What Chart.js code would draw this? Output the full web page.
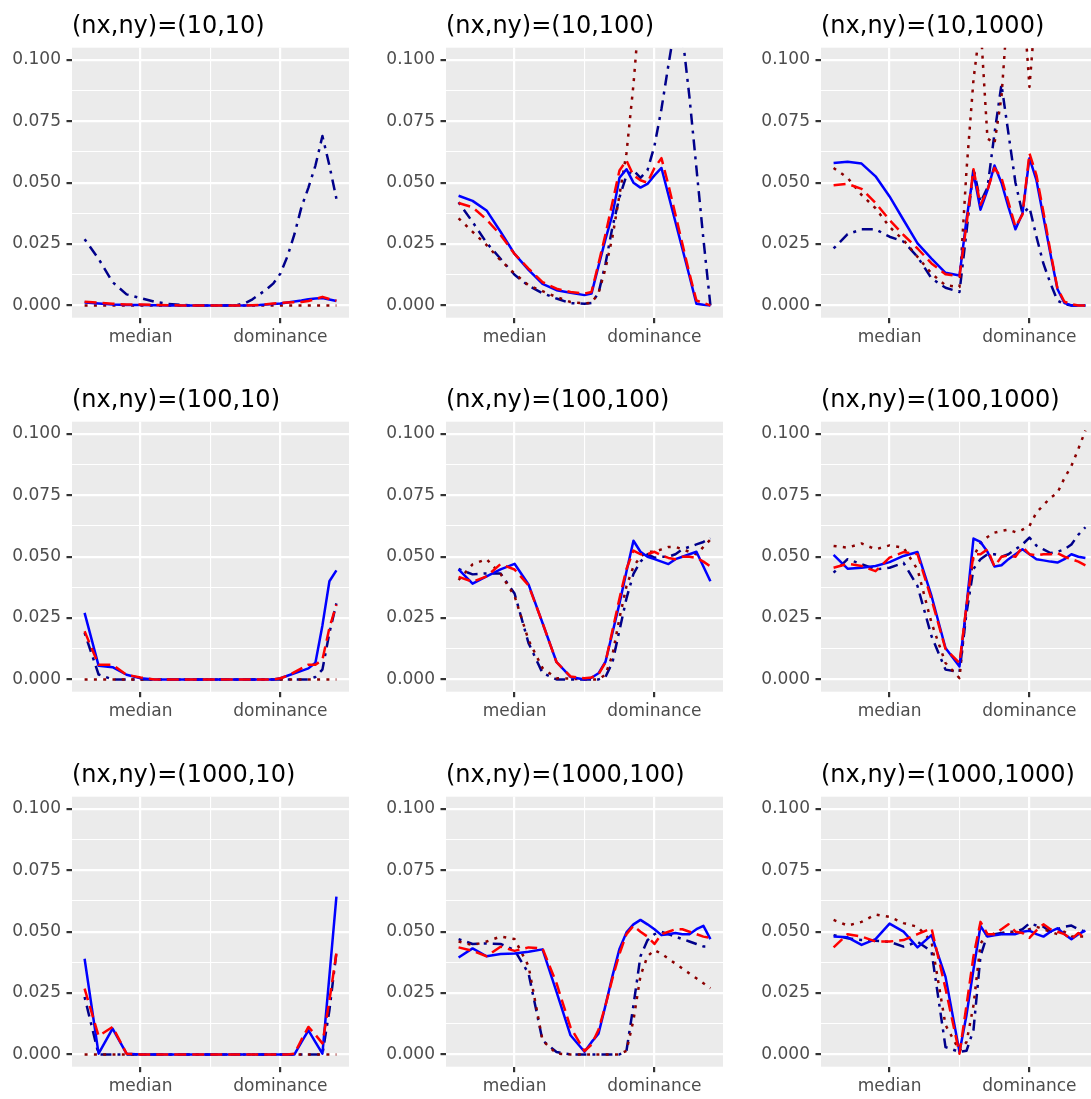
<!DOCTYPE html>
<html><head><meta charset="utf-8">
<script src="https://cdn.jsdelivr.net/npm/chart.js@4.4.1/dist/chart.umd.min.js"></script>
<style>
html,body{margin:0;padding:0;background:#fff;overflow:hidden;width:1091px;height:1099px;position:relative;}
.cell{position:absolute;width:374px;height:374px;}
canvas{display:block;}
</style></head><body>
<script>
// x positions of the evaluated tests (median = 0, dominance = 1)
const X = [-0.4,-0.3,-0.2,-0.1,0,0.1,0.2,0.3,0.4,0.5,0.55,0.6,0.65,0.7,0.75,0.8,0.85,0.9,0.95,1.0,1.05,1.1,1.15,1.2,1.25,1.3,1.35,1.4];
const xTickValues = [0, 0.5, 1];
const xTickLabels = {0: 'median', 1: 'dominance'};
const yTickValues = [0, 0.0125, 0.025, 0.0375, 0.05, 0.0625, 0.075, 0.0875, 0.1];
const titles = ['(nx,ny)=(10,10)','(nx,ny)=(10,100)','(nx,ny)=(10,1000)','(nx,ny)=(100,10)','(nx,ny)=(100,100)','(nx,ny)=(100,1000)','(nx,ny)=(1000,10)','(nx,ny)=(1000,100)','(nx,ny)=(1000,1000)'];

// (10,10)
const solid_10_10   = [0.0012,0.0008,0.0004,0.0002,0.0002,0.0001,0,0,0,0, 0,0,0,0,0,0.0001,0.0002,0.0004,0.0006,0.0008,0.0012,0.0016,0.002,0.0025,0.0028,0.003,0.0024,0.0018];
const dashed_10_10  = [0.0015,0.0011,0.0007,0.0004,0.0004,0.0002,0.0001,0,0,0, 0,0,0,0,0,0.0001,0.0002,0.0005,0.0008,0.0011,0.0012,0.0013,0.0014,0.0018,0.0026,0.0035,0.0026,0.0019];
const dotted_10_10  = [0,0,0,0,0,0,0,0,0,0, 0,0,0,0,0,0,0,0,0,0,0,0,0,0,0,0,0,0];
const dotdash_10_10 = [0.027,0.019,0.0095,0.0045,0.003,0.0015,0.0006,0.0002,0,0, 0,0,0.0001,0.0003,0.001,0.0025,0.0045,0.0065,0.009,0.013,0.02,0.029,0.04,0.048,0.057,0.069,0.057,0.0435];
// (10,100)
const solid_10_100   = [0.0447,0.0426,0.0387,0.030,0.021,0.0145,0.0088,0.0062,0.0052,0.0042, 0.0048,0.016,0.027,0.037,0.052,0.0555,0.050,0.048,0.0495,0.053,0.056,0.045,0.034,0.023,0.012,0.0007,0.0003,0];
const dashed_10_100  = [0.0417,0.040,0.035,0.0287,0.021,0.015,0.0095,0.0068,0.0055,0.0048, 0.0055,0.017,0.029,0.042,0.055,0.059,0.053,0.051,0.050,0.056,0.060,0.049,0.037,0.025,0.013,0.002,0.001,0];
const dotted_10_100  = [0.0355,0.030,0.0246,0.0184,0.013,0.0082,0.0058,0.0034,0.0014,0.0008, 0.001,0.005,0.015,0.028,0.045,0.062,0.09,0.125,0.15,0.17,0.18,0.19,0.2,0.2,0.2,0.2,0.2,0.2];
const dotdash_10_100 = [0.042,0.034,0.0255,0.019,0.0125,0.008,0.005,0.0028,0.0009,0.0007, 0.001,0.005,0.017,0.032,0.044,0.053,0.055,0.052,0.055,0.065,0.08,0.098,0.115,0.11,0.085,0.056,0.027,0];
// (10,1000)
const solid_10_1000   = [0.058,0.0585,0.0578,0.0526,0.0444,0.0348,0.0253,0.0191,0.0133,0.0122, 0.035,0.054,0.039,0.047,0.057,0.050,0.040,0.031,0.0375,0.060,0.051,0.036,0.021,0.0067,0.001,0,0,0];
const dashed_10_1000  = [0.049,0.0495,0.0475,0.0417,0.0348,0.0287,0.0232,0.0171,0.0127,0.0119, 0.033,0.0555,0.041,0.047,0.056,0.052,0.042,0.032,0.037,0.062,0.053,0.038,0.022,0.007,0.0015,0.0005,0,0];
const dotted_10_1000  = [0.056,0.052,0.045,0.0396,0.032,0.0266,0.0198,0.013,0.0082,0.0075, 0.055,0.092,0.115,0.068,0.066,0.085,0.125,0.14,0.13,0.089,0.125,0.15,0.16,0.17,0.18,0.18,0.19,0.19];
const dotdash_10_1000 = [0.0232,0.029,0.031,0.031,0.028,0.026,0.0198,0.011,0.0072,0.0055, 0.03,0.056,0.042,0.048,0.07,0.09,0.07,0.05,0.0375,0.040,0.028,0.017,0.009,0.002,0.0005,0,0,0];
// (100,10)
const solid_100_10   = [0.0271,0.0056,0.005,0.0019,0.0005,0,0,0,0,0, 0,0,0,0,0,0,0,0,0,0.0005,0.0015,0.0025,0.0035,0.0045,0.0068,0.022,0.040,0.0444];
const dashed_100_10  = [0.0196,0.006,0.006,0.0019,0.0008,0,0,0,0,0, 0,0,0,0,0,0,0,0,0,0.0005,0.0015,0.003,0.0045,0.006,0.006,0.008,0.021,0.0305];
const dotted_100_10  = [0,0,0,0,0,0,0,0,0,0, 0,0,0,0,0,0,0,0,0,0,0,0,0,0,0,0,0,0];
const dotdash_100_10 = [0.019,0.002,0,0,0,0,0,0,0,0, 0,0,0,0,0,0,0,0,0,0,0,0,0,0,0.001,0.004,0.019,0.031];
// (100,100)
const solid_100_100   = [0.0448,0.039,0.042,0.0448,0.0471,0.0387,0.023,0.0071,0.001,0, 0.0007,0.0025,0.0072,0.019,0.031,0.044,0.0565,0.052,0.050,0.049,0.048,0.047,0.049,0.050,0.051,0.052,0.046,0.040];
const dashed_100_100  = [0.0418,0.0398,0.042,0.047,0.0448,0.0383,0.023,0.007,0.0012,0.0005, 0.0008,0.002,0.007,0.02,0.033,0.045,0.0525,0.051,0.051,0.052,0.0505,0.0495,0.049,0.050,0.050,0.0495,0.048,0.046];
const dotted_100_100  = [0.0405,0.0469,0.049,0.043,0.034,0.016,0.0046,0.0005,0.0003,0, 0,0,0.002,0.01,0.025,0.038,0.046,0.050,0.052,0.052,0.053,0.054,0.054,0.053,0.052,0.051,0.054,0.057];
const dotdash_100_100 = [0.045,0.0428,0.0432,0.0432,0.035,0.0148,0.0026,0,0,0, 0,0,0.001,0.007,0.02,0.033,0.043,0.048,0.051,0.0496,0.050,0.050,0.051,0.053,0.054,0.055,0.056,0.0575];
// (100,1000)
const solid_100_1000   = [0.0507,0.0451,0.0455,0.0462,0.0478,0.0503,0.0519,0.034,0.0128,0.0053, 0.03,0.0574,0.056,0.052,0.046,0.0465,0.049,0.051,0.053,0.051,0.049,0.0485,0.048,0.0476,0.049,0.051,0.050,0.0495];
const dashed_100_1000  = [0.0455,0.0471,0.0462,0.0441,0.0496,0.0519,0.051,0.0326,0.0124,0.0067, 0.03,0.051,0.051,0.053,0.046,0.050,0.0505,0.050,0.054,0.051,0.0505,0.051,0.051,0.0515,0.050,0.049,0.048,0.0465];
const dotted_100_1000  = [0.0544,0.0537,0.0554,0.053,0.0546,0.0537,0.0448,0.023,0.0067,0.0005, 0.03,0.050,0.0555,0.058,0.0598,0.0605,0.061,0.060,0.061,0.0625,0.068,0.071,0.074,0.076,0.082,0.087,0.094,0.1014];
const dotdash_100_1000 = [0.0435,0.049,0.047,0.0448,0.0455,0.0475,0.038,0.0176,0.004,0.003, 0.027,0.045,0.049,0.051,0.051,0.050,0.051,0.053,0.055,0.0578,0.0545,0.053,0.0515,0.052,0.053,0.055,0.059,0.062];
// (1000,10)
const solid_1000_10   = [0.039,0.0003,0.0105,0.0003,0,0,0,0,0,0, 0,0,0,0,0,0,0,0,0,0,0,0,0.005,0.0098,0.005,0.0003,0.032,0.0643];
const dashed_1000_10  = [0.0268,0.0075,0.0112,0.0003,0,0,0,0,0,0, 0,0,0,0,0,0,0,0,0,0,0,0.0003,0.006,0.0112,0.008,0.0045,0.022,0.0411];
const dotted_1000_10  = [0,0,0,0,0,0,0,0,0,0, 0,0,0,0,0,0,0,0,0,0,0,0,0,0,0,0,0,0];
const dotdash_1000_10 = [0.0234,0,0,0,0,0,0,0,0,0, 0,0,0,0,0,0,0,0,0,0,0,0,0,0,0,0,0.018,0.0415];
// (1000,100)
const solid_1000_100   = [0.0395,0.0432,0.040,0.0409,0.0411,0.0418,0.0428,0.0255,0.0078,0.0011, 0.005,0.0084,0.02,0.032,0.043,0.0497,0.053,0.0548,0.053,0.051,0.0486,0.049,0.0495,0.049,0.049,0.051,0.0524,0.047];
const dashed_1000_100  = [0.0436,0.0422,0.040,0.0439,0.0422,0.0436,0.0432,0.029,0.011,0.0014, 0.004,0.01,0.02,0.031,0.041,0.049,0.0524,0.050,0.048,0.045,0.049,0.050,0.051,0.051,0.050,0.049,0.048,0.0475];
const dotted_1000_100  = [0.046,0.0445,0.046,0.048,0.047,0.036,0.0057,0.0003,0,0, 0,0,0,0,0,0.0015,0.014,0.032,0.040,0.0425,0.041,0.039,0.037,0.035,0.033,0.031,0.029,0.027];
const dotdash_1000_100 = [0.047,0.045,0.0452,0.045,0.0425,0.033,0.0057,0.001,0,0, 0,0,0,0,0,0.0015,0.02,0.040,0.0465,0.049,0.050,0.049,0.048,0.047,0.046,0.045,0.044,0.044];
// (1000,1000)
const solid_1000_1000   = [0.048,0.0477,0.0446,0.047,0.0533,0.050,0.0436,0.0486,0.0316,0.001, 0.016,0.0346,0.0523,0.048,0.0485,0.049,0.049,0.049,0.050,0.0504,0.049,0.048,0.050,0.0514,0.049,0.0469,0.049,0.0504];
const dashed_1000_1000  = [0.0436,0.049,0.048,0.046,0.046,0.0466,0.049,0.0514,0.0268,0.0003, 0.02,0.040,0.054,0.049,0.049,0.051,0.053,0.050,0.0495,0.0475,0.0505,0.053,0.051,0.050,0.049,0.047,0.0495,0.047];
const dotted_1000_1000  = [0.0548,0.0525,0.054,0.057,0.056,0.0535,0.052,0.046,0.012,0.0015, 0.005,0.02,0.045,0.050,0.049,0.049,0.050,0.049,0.050,0.051,0.052,0.051,0.050,0.049,0.050,0.048,0.048,0.048];
const dotdash_1000_1000 = [0.0486,0.0473,0.0466,0.0463,0.0459,0.0439,0.0459,0.042,0.003,0.001, 0.0015,0.01,0.04,0.049,0.049,0.0495,0.050,0.050,0.051,0.0534,0.0525,0.052,0.050,0.051,0.052,0.0525,0.051,0.050];

const panels = [
  [solid_10_10, dashed_10_10, dotted_10_10, dotdash_10_10],
  [solid_10_100, dashed_10_100, dotted_10_100, dotdash_10_100],
  [solid_10_1000, dashed_10_1000, dotted_10_1000, dotdash_10_1000],
  [solid_100_10, dashed_100_10, dotted_100_10, dotdash_100_10],
  [solid_100_100, dashed_100_100, dotted_100_100, dotdash_100_100],
  [solid_100_1000, dashed_100_1000, dotted_100_1000, dotdash_100_1000],
  [solid_1000_10, dashed_1000_10, dotted_1000_10, dotdash_1000_10],
  [solid_1000_100, dashed_1000_100, dotted_1000_100, dotdash_1000_100],
  [solid_1000_1000, dashed_1000_1000, dotted_1000_1000, dotdash_1000_1000]
];

Chart.defaults.font.family = "'DejaVu Sans', sans-serif";
const LINE_W = 2.5;
const GRID_W = 2.2;
const colLeft = [0, 374, 749];
const rowTop = [0, 374, 749];

const panelBg = {
  id: 'panelBg',
  beforeDraw(chart) {
    const a = chart.chartArea, ctx = chart.ctx;
    ctx.save();
    ctx.fillStyle = '#EBEBEB';
    ctx.fillRect(a.left, a.top, a.right - a.left, a.bottom - a.top);
    ctx.restore();
  }
};

function toXY(vals) { return vals.map((v, i) => ({x: X[i], y: v})); }
const isMajorY = v => Math.abs(v / 0.025 - Math.round(v / 0.025)) < 1e-6;
const isMajorX = v => v === 0 || v === 1;

panels.forEach((p, idx) => {
  const r = Math.floor(idx / 3), c = idx % 3;
  const div = document.createElement('div');
  div.className = 'cell';
  div.style.left = colLeft[c] + 'px';
  div.style.top = rowTop[r] + 'px';
  const cv = document.createElement('canvas');
  cv.width = 374; cv.height = 374;
  cv.style.width = '374px'; cv.style.height = '374px';
  div.appendChild(cv);
  document.body.appendChild(div);

  const common = {borderWidth: LINE_W, pointRadius: 0, pointHoverRadius: 0, tension: 0, fill: false, clip: 0, borderCapStyle: 'butt', borderJoinStyle: 'round'};
  const datasets = [
    Object.assign({label: 'dashed', data: toXY(p[1]), borderColor: '#FF0000', borderDash: [12, 6]}, common),
    Object.assign({label: 'solid', data: toXY(p[0]), borderColor: '#0000FF', borderDash: []}, common),
    Object.assign({label: 'dotted', data: toXY(p[2]), borderColor: '#8B0000', borderDash: [3, 6.3]}, common),
    Object.assign({label: 'dotdash', data: toXY(p[3]), borderColor: '#00008B', borderDash: [3, 6, 11, 6]}, common)
  ];

  new Chart(cv, {
    type: 'line',
    data: {datasets},
    plugins: [panelBg],
    options: {
      responsive: false,
      animation: false,
      devicePixelRatio: 1,
      events: [],
      layout: {padding: {left: 0, right: 25, top: 0, bottom: 0}},
      plugins: {
        legend: {display: false},
        tooltip: {enabled: false},
        title: {
          display: true, text: titles[idx], align: 'start', color: '#000000', fullSize: false,
          font: {size: 24, weight: 'normal', lineHeight: 1.2},
          padding: {top: 12.8, bottom: 6.1}
        }
      },
      scales: {
        x: {
          type: 'linear', min: -0.49, max: 1.49,
          afterBuildTicks: s => { s.ticks = xTickValues.map(v => ({value: v})); },
          afterFit: s => { s.height = 56.3; },
          border: {display: false},
          grid: {
            color: '#FFFFFF',
            lineWidth: ctx => isMajorX(ctx.tick.value) ? GRID_W : 1.1,
            drawTicks: true, tickLength: 5.5,
            tickColor: ctx => isMajorX(ctx.tick.value) ? '#333333' : 'rgba(0,0,0,0)',
            tickWidth: GRID_W
          },
          ticks: {
            autoSkip: false, maxRotation: 0, minRotation: 0, padding: 3.7,
            color: '#4D4D4D', font: {size: 17},
            callback: v => xTickLabels[v] || ''
          }
        },
        y: {
          type: 'linear', min: -0.005, max: 0.105,
          afterBuildTicks: s => { s.ticks = yTickValues.map(v => ({value: v})); },
          afterFit: s => { s.width = 72; },
          border: {display: false},
          grid: {
            color: '#FFFFFF',
            lineWidth: ctx => isMajorY(ctx.tick.value) ? GRID_W : 1.1,
            drawTicks: true, tickLength: 5.5,
            tickColor: ctx => isMajorY(ctx.tick.value) ? '#333333' : 'rgba(0,0,0,0)',
            tickWidth: GRID_W
          },
          ticks: {
            autoSkip: false, padding: 5.5,
            color: '#4D4D4D', font: {size: 17},
            callback: v => isMajorY(v) ? v.toFixed(3) : ''
          }
        }
      }
    }
  });
});
</script>
</body></html>
